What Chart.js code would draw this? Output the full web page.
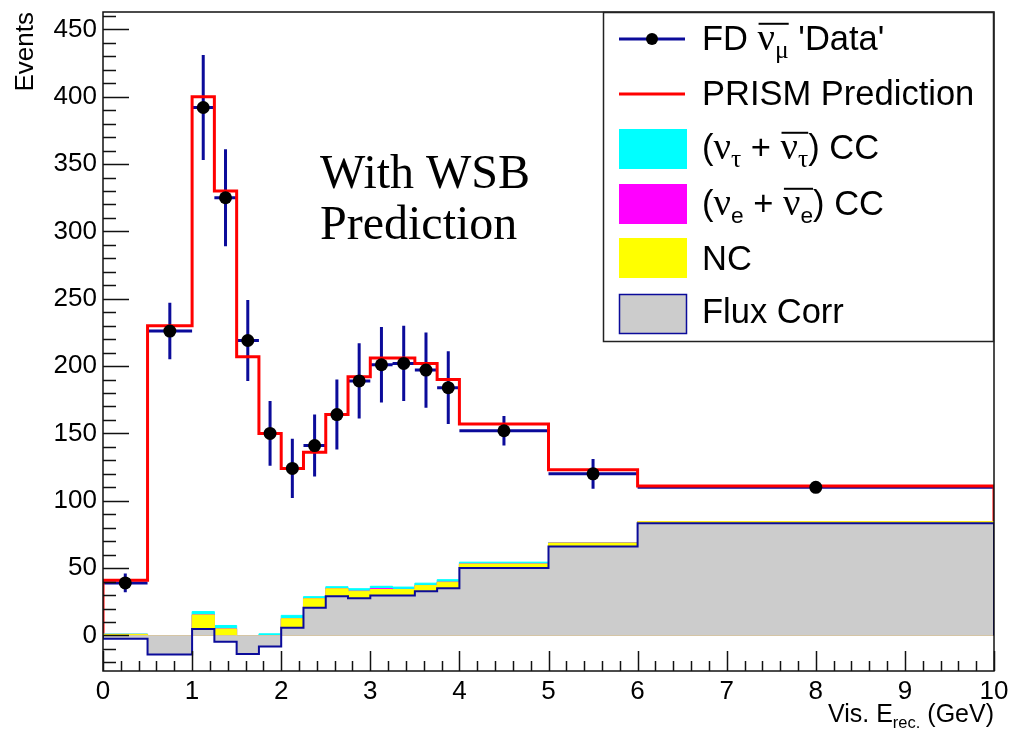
<!DOCTYPE html>
<html>
<head>
<meta charset="utf-8">
<title>PRISM prediction with WSB</title>
<script src="https://cdn.jsdelivr.net/npm/chart.js@4.4.0/dist/chart.umd.min.js"></script>
<style>
  html, body { margin: 0; padding: 0; background: #fff; }
  #wrap { width: 1009px; height: 731px; }
</style>
</head>
<body>
<div id="wrap"><canvas id="chart" width="1009" height="731"></canvas></div>
<script>
// bin edges (GeV) and per-bin contents
const binEdges = [0, 0.5, 1, 1.25, 1.5, 1.75, 2, 2.25, 2.5, 2.75, 3, 3.25, 3.5, 3.75, 4, 5, 6, 10];
const dataEvents = [39, 226, 392, 325, 219, 150, 124, 141, 164, 189, 201, 202, 197, 184, 152, 120, 110];
const dataErrors = [7, 21, 39, 36, 30, 24, 22, 23, 26, 28, 28, 28, 28, 27, 11, 11, 4];
const prismPrediction = [41, 230, 400, 330, 207, 150, 124, 136, 164, 192, 206, 206, 202, 190, 157, 123, 111];
const fluxCorr = [-2.5, -14.1, 4.8, -4.6, -13.7, -8.3, 5.7, 20.5, 29.1, 27.6, 29.6, 29.6, 32.8, 35, 50.1, 66.1, 83.3];
const ncEvents = [3.3, 5, 10.4, 9.4, 7, 7.3, 6.7, 6.7, 5.5, 5.2, 4.5, 4.5, 4.2, 4.5, 2.9, 2.5, 1.2];
const nueCC = [0, 0.1, 0.1, 0.1, 0.1, 0.1, 0.1, 0.1, 0.1, 0.1, 0.7, 0.1, 0.1, 0.1, 0.1, 0.1, 0];
const nutauCC = [0.3, 2, 2.4, 2.5, 2, 2.1, 2.4, 1.5, 1.5, 1.8, 1.7, 1.7, 1.7, 1.8, 1.3, 0.3, 0.1];
const xTicks = [0, 1, 2, 3, 4, 5, 6, 7, 8, 9, 10];
const yTicks = [0, 50, 100, 150, 200, 250, 300, 350, 400, 450];

const SANS = '"Liberation Sans", Arial, sans-serif';
const SERIF = '"Liberation Serif", "Times New Roman", serif';
const navy = '#0b0b9a';

// stacked histograms: each layer is the running sum, drawn from 0 like THStack
const cumNC = fluxCorr.map((v, i) => v + ncEvents[i]);
const cumNue = cumNC.map((v, i) => v + nueCC[i]);
const cumNutau = cumNue.map((v, i) => v + nutauCC[i]);

function histPoints(vals) {
  const pts = [{ x: binEdges[0], y: 0 }];
  vals.forEach((v, i) => pts.push({ x: binEdges[i], y: v }));
  pts.push({ x: binEdges[vals.length], y: vals[vals.length - 1] });
  pts.push({ x: binEdges[vals.length], y: 0 });
  return pts;
}

const dataPoints = dataEvents.map((v, i) => ({ x: (binEdges[i] + binEdges[i + 1]) / 2, y: v }));

function histSet(label, vals, fillColor, lineColor, lw, order) {
  return {
    label, data: histPoints(vals), stepped: 'before', fill: 'origin',
    backgroundColor: fillColor, borderColor: lineColor, borderWidth: lw,
    pointRadius: 0, order
  };
}

// draws text with greek letters, subscripts and overbars
function drawRich(ctx, x, y, parts, size, measureOnly) {
  let cx = x;
  for (const p of parts) {
    if (p.bar) {
      const x0 = cx;
      cx = drawRich(ctx, cx, y, p.bar, size, measureOnly);
      if (!measureOnly) {
        ctx.save();
        ctx.lineWidth = 2;
        ctx.strokeStyle = '#000';
        ctx.beginPath();
        ctx.moveTo(x0 + 1, y - size * 0.76);
        ctx.lineTo(cx, y - size * 0.76);
        ctx.stroke();
        ctx.restore();
      }
      continue;
    }
    let fs = p.sub ? size * 0.66 : size;
    if (p.greek) fs *= 1.12;
    ctx.font = fs + 'px ' + (p.greek ? SERIF : SANS);
    if (!measureOnly) ctx.fillText(p.t, cx, y + (p.sub ? size * 0.22 : 0));
    cx += ctx.measureText(p.t).width;
  }
  return cx;
}

const errorBars = {
  id: 'errorBars',
  beforeDatasetDraw(chart, args) {
    if (chart.data.datasets[args.index].label !== 'PRISM Prediction') return;
    const { ctx, chartArea, scales: { x, y } } = chart;
    ctx.save();
    ctx.beginPath();
    ctx.rect(chartArea.left, chartArea.top, chartArea.right - chartArea.left, chartArea.bottom - chartArea.top);
    ctx.clip();
    ctx.strokeStyle = navy;
    ctx.lineWidth = 3;
    ctx.beginPath();
    dataEvents.forEach((v, i) => {
      const yc = y.getPixelForValue(v);
      ctx.moveTo(x.getPixelForValue(binEdges[i]), yc);
      ctx.lineTo(x.getPixelForValue(binEdges[i + 1]), yc);
      const xc = x.getPixelForValue((binEdges[i] + binEdges[i + 1]) / 2);
      ctx.moveTo(xc, y.getPixelForValue(v + dataErrors[i]));
      ctx.lineTo(xc, y.getPixelForValue(v - dataErrors[i]));
    });
    ctx.stroke();
    ctx.restore();
  }
};

const rootFrame = {
  id: 'rootFrame',
  afterDraw(chart) {
    const { ctx, chartArea: a, scales: { x, y } } = chart;
    ctx.save();
    ctx.strokeStyle = '#111';
    ctx.lineWidth = 1.5;
    ctx.strokeRect(a.left, a.top, a.right - a.left, a.bottom - a.top);

    // inward ticks, ROOT style
    ctx.beginPath();
    for (let v = -20; v <= 460; v += 10) {
      const py = Math.round(y.getPixelForValue(v)) + 0.5;
      const len = v % 50 === 0 ? 26 : 13;
      ctx.moveTo(a.left, py);
      ctx.lineTo(a.left + len, py);
    }
    for (let k = 0; k <= 50; k++) {
      const px = Math.round(x.getPixelForValue(k * 0.2)) + 0.5;
      const len = k % 5 === 0 ? 20 : 10;
      ctx.moveTo(px, a.bottom);
      ctx.lineTo(px, a.bottom - len);
    }
    ctx.stroke();

    ctx.fillStyle = '#000';
    ctx.textBaseline = 'alphabetic';

    // axis titles
    ctx.save();
    ctx.translate(33, a.top);
    ctx.rotate(-Math.PI / 2);
    ctx.textAlign = 'right';
    ctx.font = '26px ' + SANS;
    ctx.fillText('Events', 0, 0);
    ctx.restore();

    ctx.textAlign = 'left';
    const xt = [{ t: 'Vis. E' }, { t: 'rec.', sub: true }, { t: ' (GeV)' }];
    const w = drawRich(ctx, 0, 0, xt, 25, true);
    drawRich(ctx, a.right - w, 722, xt, 25, false);

    // annotation
    ctx.font = '48px ' + SERIF;
    ctx.fillText('With WSB', 320, 188);
    ctx.fillText('Prediction', 320, 239);

    // legend
    const L = { l: 603.5, t: 12.5, r: 993.5, b: 341.5 };
    ctx.fillStyle = '#fff';
    ctx.fillRect(L.l, L.t, L.r - L.l, L.b - L.t);
    ctx.strokeStyle = '#222';
    ctx.lineWidth = 1.5;
    ctx.strokeRect(L.l, L.t, L.r - L.l, L.b - L.t);

    ctx.lineWidth = 3;
    ctx.strokeStyle = navy;
    ctx.beginPath(); ctx.moveTo(619, 39); ctx.lineTo(685, 39); ctx.stroke();
    ctx.fillStyle = '#000';
    ctx.beginPath(); ctx.arc(652, 39, 6, 0, Math.PI * 2); ctx.fill();
    ctx.strokeStyle = '#ff0000';
    ctx.beginPath(); ctx.moveTo(619, 94); ctx.lineTo(685, 94); ctx.stroke();

    const boxes = [['#00ffff', 129], ['#ff00ff', 184], ['#ffff00', 238], ['#cccccc', 294]];
    boxes.forEach(([c, top]) => {
      ctx.fillStyle = c;
      ctx.fillRect(619, top, 68, 40);
    });
    ctx.strokeStyle = navy;
    ctx.lineWidth = 1.5;
    ctx.strokeRect(619.5, 294.5, 67, 39);

    ctx.fillStyle = '#000';
    const fs = 34.5;
    drawRich(ctx, 702, 50, [{ t: 'FD ' }, { bar: [{ t: 'ν', greek: true }, { t: 'μ', greek: true, sub: true }] }, { t: " 'Data'" }], fs);
    drawRich(ctx, 702, 105, [{ t: 'PRISM Prediction' }], fs);
    drawRich(ctx, 702, 159, [{ t: '(' }, { t: 'ν', greek: true }, { t: 'τ', greek: true, sub: true }, { t: ' + ' },
      { bar: [{ t: 'ν', greek: true }, { t: 'τ', greek: true, sub: true }] }, { t: ') CC' }], fs);
    drawRich(ctx, 702, 215, [{ t: '(' }, { t: 'ν', greek: true }, { t: 'e', sub: true }, { t: ' + ' },
      { bar: [{ t: 'ν', greek: true }, { t: 'e', sub: true }] }, { t: ') CC' }], fs);
    drawRich(ctx, 702, 270, [{ t: 'NC' }], fs);
    drawRich(ctx, 702, 323, [{ t: 'Flux Corr' }], fs);
    ctx.restore();
  }
};

const tickFont = { family: SANS, size: 26 };
const noPad = s => { s.paddingLeft = 0; s.paddingRight = 0; s.paddingTop = 0; s.paddingBottom = 0; };

new Chart(document.getElementById('chart').getContext('2d'), {
  type: 'line',
  data: {
    datasets: [
      {
        label: "FD 'Data'", data: dataPoints, showLine: false,
        pointRadius: 6.5, pointBackgroundColor: '#000', pointBorderWidth: 0, order: 0
      },
      histSet('Flux Corr', fluxCorr, '#cccccc', navy, 2, 1),
      histSet('NC', cumNC, '#ffff00', '#ffff00', 1, 2),
      histSet('nue CC', cumNue, '#ff00ff', '#ff00ff', 1, 3),
      histSet('nutau CC', cumNutau, '#00ffff', '#00ffff', 1, 4),
      {
        label: 'PRISM Prediction', data: histPoints(prismPrediction), stepped: 'before', fill: false,
        borderColor: '#ff0000', borderWidth: 3, pointRadius: 0, order: 5
      }
    ]
  },
  options: {
    responsive: false,
    animation: false,
    devicePixelRatio: 1,
    layout: { padding: { top: 12, right: 15, left: 0, bottom: 0 } },
    plugins: { legend: { display: false }, tooltip: { enabled: false } },
    scales: {
      x: {
        type: 'linear', min: 0, max: 10,
        afterBuildTicks: s => { s.ticks = xTicks.map(v => ({ value: v })); },
        afterFit: s => { s.height = 60; noPad(s); },
        ticks: { font: tickFont, color: '#000', padding: 5, maxRotation: 0, autoSkip: false },
        grid: { display: false, drawTicks: false },
        border: { display: false }
      },
      y: {
        type: 'linear', min: -26.4, max: 462.9,
        afterBuildTicks: s => { s.ticks = yTicks.map(v => ({ value: v })); },
        afterFit: s => { s.width = 103; noPad(s); },
        ticks: { font: tickFont, color: '#000', padding: 6, autoSkip: false },
        grid: { display: false, drawTicks: false },
        border: { display: false }
      }
    }
  },
  plugins: [errorBars, rootFrame]
});
</script>
</body>
</html>
